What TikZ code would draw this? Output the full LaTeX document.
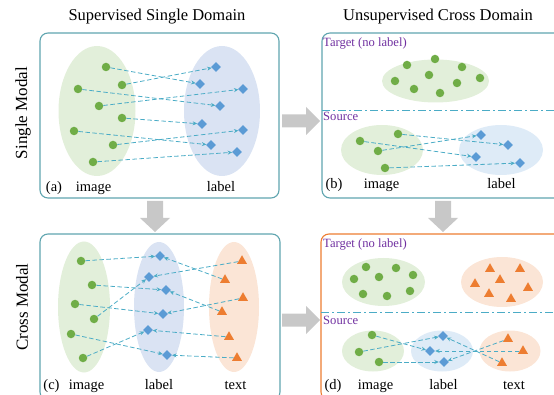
\documentclass[tikz,border=0pt]{standalone}
\usepackage{fontspec}
\setmainfont{Liberation Serif}
\usetikzlibrary{shapes.geometric,arrows.meta}
\definecolor{cgreen}{RGB}{112,173,71}
\definecolor{clgreen}{RGB}{226,239,218}
\definecolor{cblue}{RGB}{91,155,213}
\definecolor{clav}{RGB}{218,227,243}
\definecolor{clblue}{RGB}{222,235,247}
\definecolor{corange}{RGB}{237,125,49}
\definecolor{clorange}{RGB}{251,229,214}
\definecolor{cteal}{RGB}{95,165,175}
\definecolor{cconn}{RGB}{75,172,198}
\definecolor{cpurple}{RGB}{112,48,160}
\definecolor{cgray}{RGB}{200,200,200}
\tikzset{
  gdot/.style={circle,fill=cgreen,inner sep=0pt,minimum size=8.5pt},
  bdia/.style={diamond,fill=cblue,inner sep=0pt,minimum size=10pt},
  otri/.style={regular polygon,regular polygon sides=3,fill=corange,inner sep=0pt,minimum size=11.5pt},
  conn/.style={draw=cconn,line width=0.8pt,dash pattern=on 4.5pt off 2.5pt,-{Stealth[length=4.5pt,width=4pt]}},
  cloud/.style={ellipse,inner sep=0pt},
  panel/.style={draw=cteal,line width=1.1pt,rounded corners=8pt},
  lbl/.style={font=\fontsize{14.5}{16}\selectfont,anchor=base,inner sep=0pt},
  ttl/.style={font=\fontsize{16.5}{19}\selectfont,inner sep=0pt},
  ptxt/.style={font=\fontsize{12.6}{14}\selectfont,text=cpurple,anchor=base west,inner sep=0pt},
  garrow/.style={fill=cgray},
  divline/.style={draw=cconn,line width=0.9pt,dash pattern=on 8pt off 3pt on 2pt off 3pt}
}
\begin{document}
\begin{tikzpicture}[x=1pt,y=-1pt]
\useasboundingbox (0,0) rectangle (554,395);
% titles
\node[ttl] (t1) at (157,17) {Supervised Single Domain};
\node[ttl] (t2) at (438,17) {Unsupervised Cross Domain};
\node[ttl,rotate=90,font=\fontsize{17}{19}\selectfont] (r1) at (23,113) {Single Modal};
\node[ttl,rotate=90,font=\fontsize{17}{19}\selectfont] (r2) at (22,307) {Cross Modal};
% panels
\draw[panel] (40,33) rectangle (279,198);
\draw[panel] (322,33) rectangle (590,198);
\draw[panel] (40,234) rectangle (280,400);
\draw[panel,draw=corange] (321,234) rectangle (590,400);
\draw[divline] (322,110) -- (554,110);
\draw[divline] (321,312) -- (554,312);
% gray arrows
\fill[garrow] (282,114.5) -- (306,114.5) -- (306,107) -- (320,121) -- (306,135) -- (306,127.5) -- (282,127.5) -- cycle;
\fill[garrow] (282,313.5) -- (306,313.5) -- (306,306) -- (320,320) -- (306,334) -- (306,326.5) -- (282,326.5) -- cycle;
\fill[garrow] (147,201) -- (163,201) -- (163,218) -- (170,218) -- (155,232) -- (140,218) -- (147,218) -- cycle;
\fill[garrow] (435,201) -- (451,201) -- (451,218) -- (458,218) -- (443,232) -- (428,218) -- (435,218) -- cycle;

% ===== panel (a)
\node[cloud,fill=clgreen,minimum width=77pt,minimum height=130pt] (ga) at (97,111) {};
\node[cloud,fill=clav,minimum width=76pt,minimum height=130pt] (ba) at (222,111) {};
\node[gdot] (a1) at (106,67) {};
\node[gdot] (a2) at (122,85) {};
\node[gdot] (a3) at (78,89) {};
\node[gdot] (a4) at (99,106) {};
\node[gdot] (a5) at (122,118) {};
\node[gdot] (a6) at (74,131) {};
\node[gdot] (a7) at (113,145) {};
\node[gdot] (a8) at (93,162) {};
\node[bdia] (la1) at (216,67) {};
\node[bdia] (la2) at (200,84) {};
\node[bdia] (la3) at (243,89) {};
\node[bdia] (la4) at (220,106) {};
\node[bdia] (la5) at (202,124) {};
\node[bdia] (la6) at (243,130) {};
\node[bdia] (la7) at (211,145) {};
\node[bdia] (la8) at (237,152) {};
\draw[conn] (a1) -- (la2);
\draw[conn] (a2) -- (la1);
\draw[conn] (a3) -- (la4);
\draw[conn] (a4) -- (la3);
\draw[conn] (a5) -- (la5);
\draw[conn] (a6) -- (la7);
\draw[conn] (a7) -- (la6);
\draw[conn] (a8) -- (la8);
\node[lbl] (pa) at (54,192) {(a)};
\node[lbl] (ia) at (93.5,192) {image};
\node[lbl] (ta) at (221,192) {label};

% ===== panel (b)
\node[ptxt] (tgtb) at (323,47) {Target (no label)};
\node[ptxt] (srcb) at (323,120.5) {Source};
\node[cloud,fill=clgreen,minimum width=107pt,minimum height=43pt] (tgb) at (435.5,81) {};
\node[gdot] (u1) at (407,65) {};
\node[gdot] (u2) at (435,59) {};
\node[gdot] (u3) at (462,67) {};
\node[gdot] (u4) at (395,81) {};
\node[gdot] (u5) at (429,75) {};
\node[gdot] (u6) at (457,83) {};
\node[gdot] (u7) at (480,78) {};
\node[gdot] (u8) at (414,89) {};
\node[gdot] (u9) at (440,93) {};
\node[cloud,fill=clgreen,minimum width=82pt,minimum height=50pt] (sgb) at (382,150) {};
\node[cloud,fill=clblue,minimum width=84pt,minimum height=50pt] (sbb) at (501,150) {};
\node[gdot] (b1) at (398,134) {};
\node[gdot] (b2) at (360,141) {};
\node[gdot] (b3) at (378,151) {};
\node[gdot] (b4) at (385,168) {};
\node[bdia] (lb1) at (481,135) {};
\node[bdia] (lb2) at (508,145) {};
\node[bdia] (lb3) at (476,157) {};
\node[bdia] (lb4) at (520,163) {};
\draw[conn] (b1) -- (lb2);
\draw[conn] (b2) -- (lb3);
\draw[conn] (b3) -- (lb1);
\draw[conn] (b4) -- (lb4);
\node[lbl] (pb) at (334,189) {(b)};
\node[lbl] (ib) at (381.5,189) {image};
\node[lbl] (tb) at (501.5,189) {label};

% ===== panel (c)
\node[cloud,fill=clgreen,minimum width=52pt,minimum height=131pt] (gc) at (84,307) {};
\node[cloud,fill=clav,minimum width=50pt,minimum height=130pt] (bc) at (159,307) {};
\node[cloud,fill=clorange,minimum width=50pt,minimum height=130pt] (oc) at (234,307) {};
\node[gdot] (c1) at (81,261) {};
\node[gdot] (c2) at (92,285) {};
\node[gdot] (c3) at (75,304) {};
\node[gdot] (c4) at (94,319) {};
\node[gdot] (c5) at (71,334) {};
\node[gdot] (c6) at (83,358) {};
\node[bdia] (lc1) at (160,256) {};
\node[bdia] (lc2) at (149,277) {};
\node[bdia] (lc3) at (166,290) {};
\node[bdia] (lc4) at (163,314) {};
\node[bdia] (lc5) at (148,330) {};
\node[bdia] (lc6) at (167,355) {};
\node[otri] (tc1) at (242,261) {};
\node[otri] (tc2) at (225,280) {};
\node[otri] (tc3) at (243,298) {};
\node[otri] (tc4) at (222,312) {};
\node[otri] (tc5) at (229,337) {};
\node[otri] (tc6) at (237,358) {};
\draw[conn] (c1) -- (lc1);
\draw[conn] (c2) -- (lc3);
\draw[conn] (c3) -- (lc4);
\draw[conn] (c4) -- (lc2);
\draw[conn] (c5) -- (lc6);
\draw[conn] (c6) -- (lc5);
\draw[conn] (tc1) -- (lc2);
\draw[conn] (tc2) -- (lc1);
\draw[conn] (tc3) -- (lc4);
\draw[conn] (tc4) -- (lc3);
\draw[conn] (tc5) -- (lc5);
\draw[conn] (tc6) -- (lc6);
\node[lbl] (pc) at (51.5,389) {(c)};
\node[lbl] (ic) at (86.5,389) {image};
\node[lbl] (lcl) at (159,389) {label};
\node[lbl] (xc) at (235.5,389) {text};

% ===== panel (d)
\node[ptxt] (tgtd) at (323,248) {Target (no label)};
\node[ptxt] (srcd) at (323,324) {Source};
\node[cloud,fill=clgreen,minimum width=83pt,minimum height=48pt] (tgd) at (383.5,282) {};
\node[cloud,fill=clorange,minimum width=82pt,minimum height=50pt] (tod) at (502,282) {};
\node[gdot] (v1) at (366,267) {};
\node[gdot] (v2) at (396,268) {};
\node[gdot] (v3) at (354,279) {};
\node[gdot] (v4) at (379,277) {};
\node[gdot] (v5) at (413,275) {};
\node[gdot] (v6) at (363,294) {};
\node[gdot] (v7) at (387,296) {};
\node[gdot] (v8) at (410,291) {};
\node[otri] (w1) at (490,269) {};
\node[otri] (w2) at (520,269) {};
\node[otri] (w3) at (500,280) {};
\node[otri] (w4) at (475,284) {};
\node[otri] (w5) at (528,288) {};
\node[otri] (w6) at (489,294) {};
\node[otri] (w7) at (511,299) {};
\node[cloud,fill=clgreen,minimum width=62pt,minimum height=41pt] (sgd) at (373,351) {};
\node[cloud,fill=clblue,minimum width=62pt,minimum height=41pt] (sbd) at (442,351) {};
\node[cloud,fill=clorange,minimum width=61pt,minimum height=41pt] (sod) at (510,351) {};
\node[gdot] (d1) at (372,335) {};
\node[gdot] (d2) at (359,352) {};
\node[gdot] (d3) at (379,362) {};
\node[bdia] (ld1) at (443,336) {};
\node[bdia] (ld2) at (430,351) {};
\node[bdia] (ld3) at (444,362) {};
\node[otri] (td1) at (508,339) {};
\node[otri] (td2) at (523,351) {};
\node[otri] (td3) at (502,363) {};
\draw[conn] (d1) -- (ld2);
\draw[conn] (d2) -- (ld1);
\draw[conn] (d3) -- (ld3);
\draw[conn] (td1) -- (ld3);
\draw[conn] (td2) -- (ld2);
\draw[conn] (td3) -- (ld1);
\node[lbl] (pd) at (333,389) {(d)};
\node[lbl] (id) at (375.5,389) {image};
\node[lbl] (ldl) at (443.5,389) {label};
\node[lbl] (xd) at (514,389) {text};
\end{tikzpicture}
\end{document}
